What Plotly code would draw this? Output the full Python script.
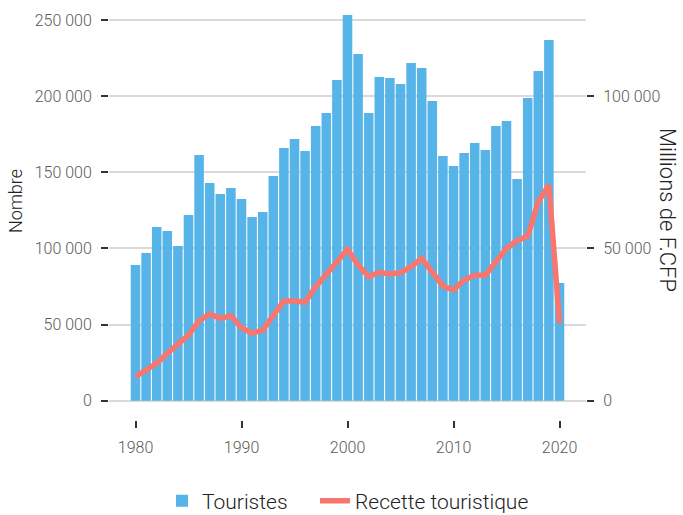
import plotly.graph_objects as go

annees = list(range(1980, 2021))
touristes = [
    89100, 97000, 114100, 111400, 101600, 121900, 161300, 143000, 135700, 139700,
    132500, 120600, 123900, 147600, 165900, 171900, 164000, 180400, 188900, 210600,
    253300, 227700, 188900, 212600, 211900, 208000, 221800, 218500, 196800, 160700,
    154100, 162700, 169200, 164600, 180400, 183700, 145600, 198800, 216500, 236900,
    77300,
]
recette = [
    7880, 9850, 12280, 15560, 18850, 21570, 26270, 28470, 27050, 27910,
    23970, 22130, 23210, 28140, 32740, 32740, 32400, 37430, 41600, 45640,
    49710, 44560, 40720, 42160, 41600, 42030, 44000, 46760, 42360, 37660,
    36350, 39630, 41170, 41170, 45640, 50040, 52540, 54080, 65340, 70820,
    25410,
]
x_ticks = [1980, 1990, 2000, 2010, 2020]
y_ticks = [0, 50000, 100000, 150000, 200000, 250000]
y2_ticks = [0, 50000, 100000]

FONT = "Roboto"
TICK_COL = "#5a5a5a"
W, H = 683, 515

fig = go.Figure()
fig.add_trace(go.Bar(
    x=annees, y=touristes, name="Touristes", width=0.9,
    marker=dict(color="#56B4E9", line=dict(width=0)),
    legend="legend",
))
fig.add_trace(go.Scatter(
    x=annees, y=recette, name="Recette touristique", yaxis="y2",
    mode="lines", line=dict(color="#F8766D", width=5.5),
    legend="legend2",
))

tickfont = dict(family=FONT, size=16, color=TICK_COL, weight=300)
legfont = dict(family=FONT, size=21, color="#222222", weight=300)

fig.update_layout(
    width=W, height=H,
    margin=dict(l=109, r=97, t=0, b=95),
    paper_bgcolor="white", plot_bgcolor="white",
    separators=", ",
    font=dict(family=FONT, color="#222222"),
    showlegend=True,
    legend=dict(
        orientation="h", xref="container", yref="container",
        x=162 / W, xanchor="left", y=1 - 501 / H, yanchor="middle",
        font=legfont, itemwidth=30, bgcolor="rgba(0,0,0,0)",
    ),
    legend2=dict(
        orientation="h", xref="container", yref="container",
        x=315 / W, xanchor="left", y=1 - 501 / H, yanchor="middle",
        font=legfont, itemwidth=30, bgcolor="rgba(0,0,0,0)",
    ),
    xaxis=dict(
        range=[1977.5, 2022.5], tickvals=x_ticks, showgrid=False, zeroline=False,
        ticks="outside", ticklen=7, tickwidth=2, tickcolor="#333333",
        tickfont=tickfont, ticklabelstandoff=6, automargin=False,
    ),
    yaxis=dict(
        range=[-12665, 263130], tickvals=y_ticks, tickformat=",",
        showgrid=True, gridcolor="#dadada", gridwidth=2, zeroline=False,
        ticks="outside", ticklen=7, tickwidth=2, tickcolor="#333333",
        tickfont=tickfont, ticklabelstandoff=6, automargin=False,
    ),
    yaxis2=dict(
        range=[-6332.5, 131565], tickvals=y2_ticks, tickformat=",",
        overlaying="y", side="right", showgrid=False, zeroline=False,
        ticks="outside", ticklen=7, tickwidth=2, tickcolor="#333333",
        tickfont=tickfont, ticklabelstandoff=6, automargin=False,
    ),
    annotations=[
        dict(text="Nombre", xref="paper", yref="paper",
             x=(16 - 109) / 477, y=(420 - 201) / 420, xanchor="center", yanchor="middle",
             textangle=-90, showarrow=False,
             font=dict(family=FONT, size=18, color="#222222", weight=300)),
        dict(text="Millions de F.CFP", xref="paper", yref="paper",
             x=(668 - 109) / 477, y=(420 - 210) / 420, xanchor="center", yanchor="middle",
             textangle=90, showarrow=False,
             font=dict(family=FONT, size=22, color="#222222", weight=300)),
    ],
)

fig.write_html("out.html", config={"displayModeBar": False},
               post_script="document.body.style.margin='0px';")
